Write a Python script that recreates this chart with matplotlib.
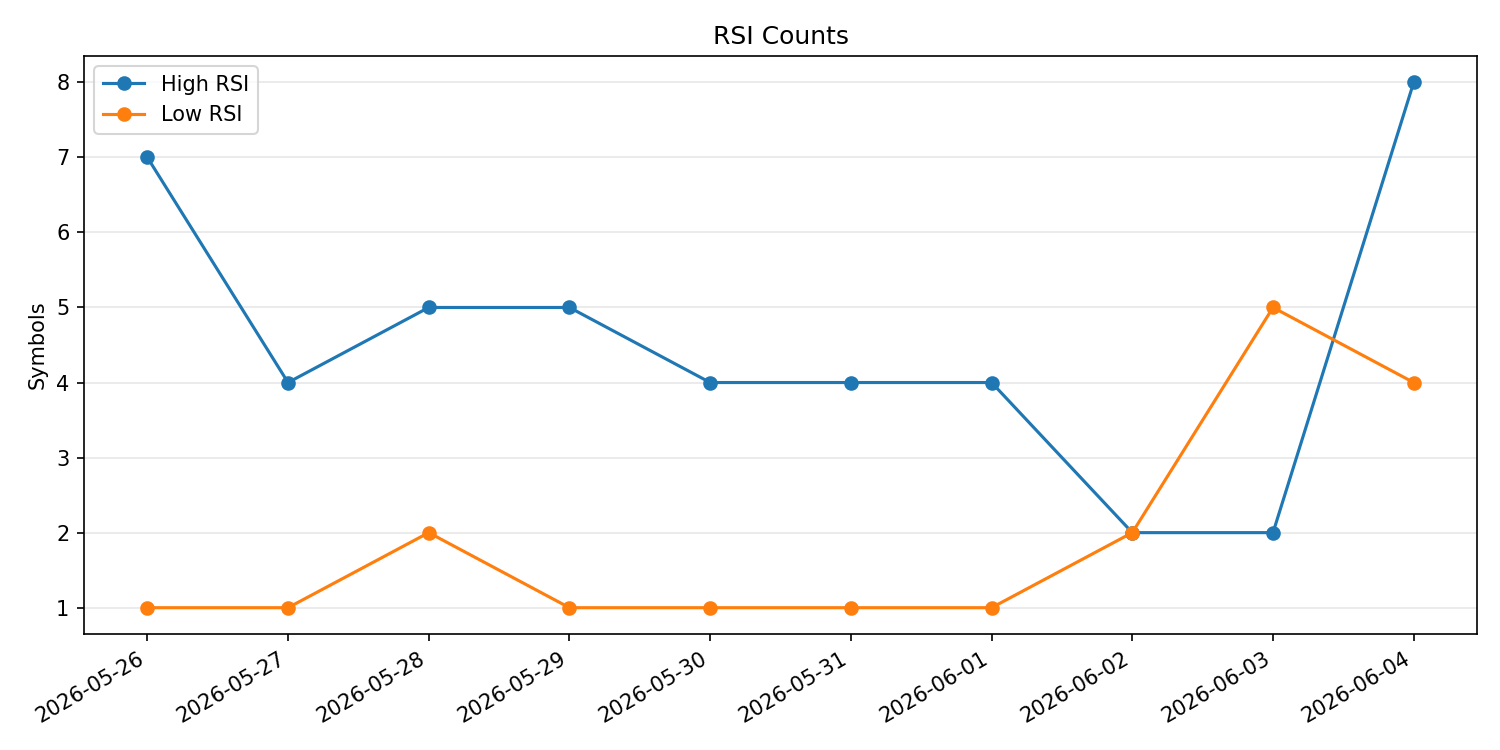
import matplotlib
matplotlib.use("Agg")
import matplotlib.pyplot as plt

dates = ["2026-05-26", "2026-05-27", "2026-05-28", "2026-05-29", "2026-05-30",
         "2026-05-31", "2026-06-01", "2026-06-02", "2026-06-03", "2026-06-04"]
high_rsi = [7, 4, 5, 5, 4, 4, 4, 2, 2, 8]
low_rsi = [1, 1, 2, 1, 1, 1, 1, 2, 5, 4]

fig, ax = plt.subplots(figsize=(10, 5), dpi=150)
ax.plot(dates, high_rsi, marker="o", label="High RSI")
ax.plot(dates, low_rsi, marker="o", label="Low RSI")
ax.set_title("RSI Counts")
ax.set_ylabel("Symbols")
ax.grid(axis="y", alpha=0.3)
ax.legend(loc="upper left")
fig.autofmt_xdate()
fig.subplots_adjust(left=0.056, right=0.9847, top=0.9253, bottom=0.1547)
fig.savefig("out.png")
